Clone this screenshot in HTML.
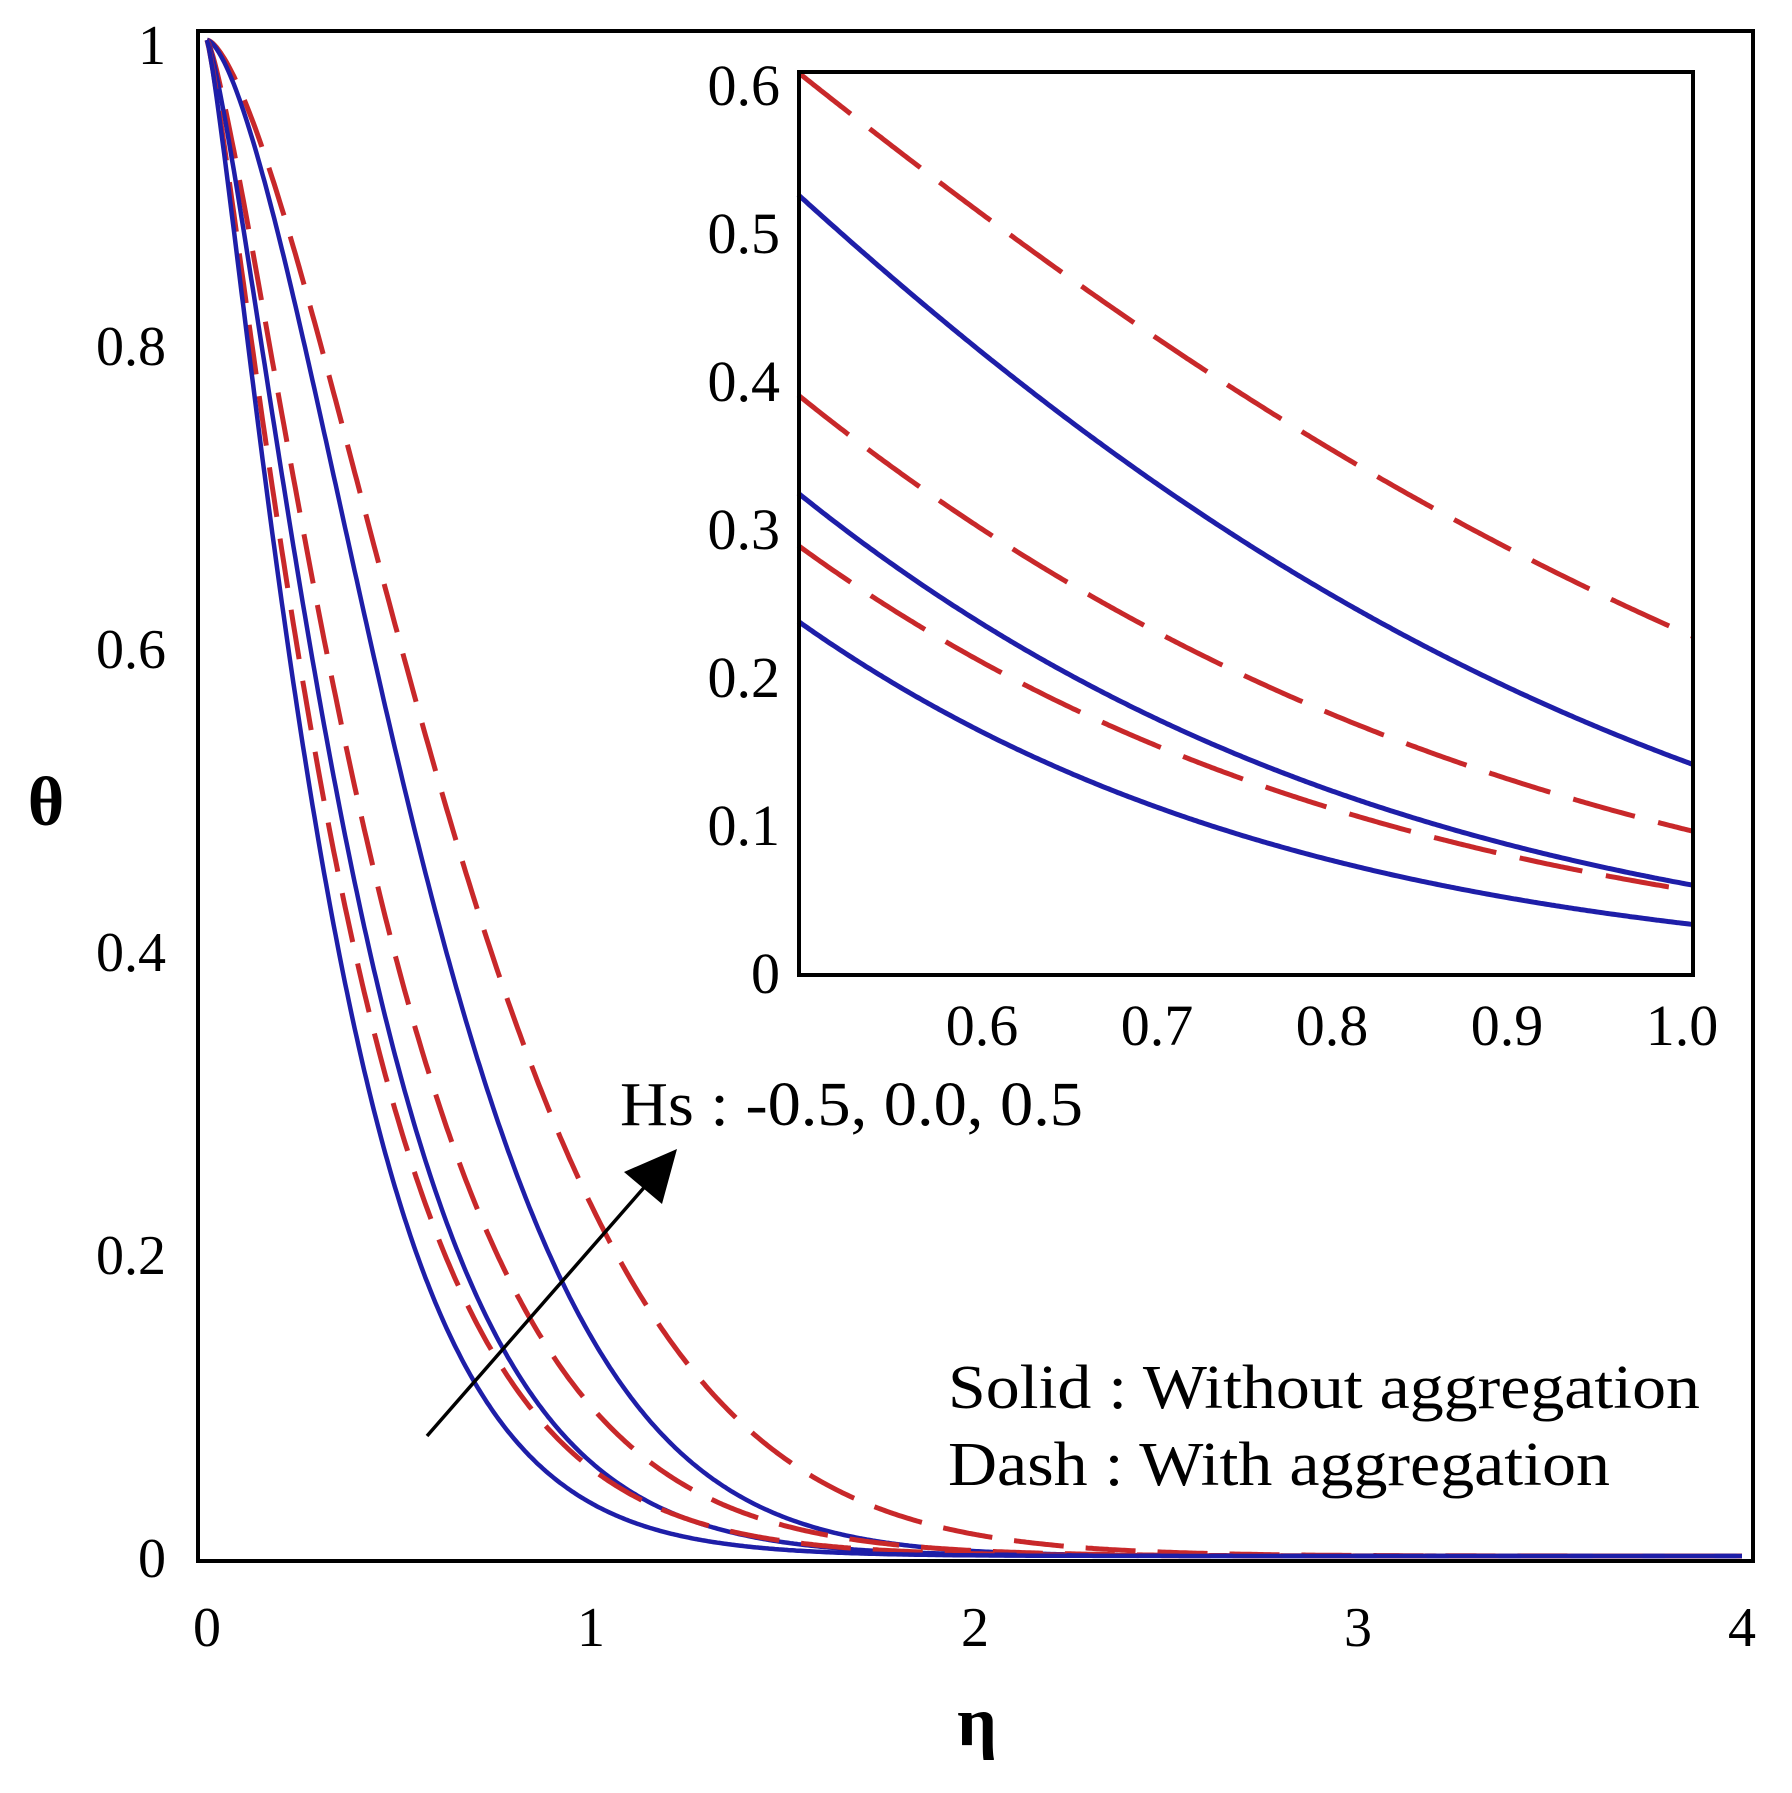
<!DOCTYPE html>
<html><head><meta charset="utf-8"><style>
html,body{margin:0;padding:0;background:#fff;}
svg{display:block;}
text{font-family:"Liberation Serif",serif;fill:#000;}
</style></head><body>
<svg id="s" width="1792" height="1793" viewBox="0 0 1792 1793" xmlns="http://www.w3.org/2000/svg">
<rect width="1792" height="1793" fill="#fff"/>
<g id="main"></g>
<rect x="198" y="31" width="1555" height="1530" fill="none" stroke="#000" stroke-width="4"/>
<g font-size="56" text-anchor="end">
<text x="166" y="64">1</text>
<text x="166" y="365">0.8</text>
<text x="166" y="668">0.6</text>
<text x="166" y="971">0.4</text>
<text x="166" y="1274">0.2</text>
<text x="166" y="1577">0</text>
</g>
<g font-size="56" text-anchor="middle">
<text x="207" y="1646">0</text>
<text x="591" y="1646">1</text>
<text x="975" y="1646">2</text>
<text x="1358" y="1646">3</text>
<text x="1742" y="1646">4</text>
</g>
<text x="46" y="825" font-size="70" font-weight="bold" text-anchor="middle">θ</text>
<text x="977" y="1745" font-size="70" font-weight="bold" text-anchor="middle">η</text>
<rect x="799" y="72" width="894" height="903" fill="#fff"/>
<g id="inset"></g>
<rect x="799" y="72" width="894" height="903" fill="none" stroke="#000" stroke-width="4"/>
<g font-size="58" text-anchor="end">
<text x="780" y="105">0.6</text>
<text x="780" y="253">0.5</text>
<text x="780" y="401">0.4</text>
<text x="780" y="549">0.3</text>
<text x="780" y="697">0.2</text>
<text x="780" y="845">0.1</text>
<text x="780" y="993">0</text>
</g>
<g font-size="58" text-anchor="middle">
<text x="982" y="1045">0.6</text>
<text x="1157" y="1045">0.7</text>
<text x="1332" y="1045">0.8</text>
<text x="1507" y="1045">0.9</text>
<text x="1682" y="1045">1.0</text>
</g>
<line x1="427" y1="1436" x2="655" y2="1175" stroke="#000" stroke-width="3.5"/>
<polygon points="677,1149 624,1172 662,1204" fill="#000"/>
<text x="620" y="1125" font-size="62" textLength="463" lengthAdjust="spacingAndGlyphs">Hs : -0.5, 0.0, 0.5</text>
<text x="948" y="1408" font-size="62" textLength="752" lengthAdjust="spacingAndGlyphs">Solid : Without aggregation</text>
<text x="948" y="1485" font-size="62" textLength="662" lengthAdjust="spacingAndGlyphs">Dash : With aggregation</text>
</svg>
<script>
var curves=[
 {c:1.461,p:1.54,col:"#c8282a",d:1},
 {c:1.931,p:1.57,col:"#1e1ea8",d:0},
 {c:2.313,p:1.285,col:"#c8282a",d:1},
 {c:2.78,p:1.29,col:"#1e1ea8",d:0},
 {c:2.847,p:1.185,col:"#c8282a",d:1},
 {c:3.352,p:1.21,col:"#1e1ea8",d:0}
];
function th(cv,e){return Math.exp(-cv.c*Math.pow(e,cv.p));}
var NS="http://www.w3.org/2000/svg";
function add(g,d,cv,w,dash){var p=document.createElementNS(NS,"path");p.setAttribute("d",d);p.setAttribute("fill","none");p.setAttribute("stroke",cv.col);p.setAttribute("stroke-width",w);if(cv.d)p.setAttribute("stroke-dasharray",dash);g.appendChild(p);}
var gm=document.getElementById("main"),gi=document.getElementById("inset");
curves.forEach(function(cv){
 var d="";for(var i=0;i<=800;i++){var e=4*i/800;var x=207+e*383.75,y=1556-1516*th(cv,e);d+=(i?"L":"M")+x.toFixed(1)+","+y.toFixed(1);}
 add(gm,d,cv,cv.d?5:4.5,"50 22");
 d="";var first=true;for(var i=0;i<=400;i++){var e=0.495+0.511*i/400;var x=1682+(e-1)*1750,y=975-1480*th(cv,e);if(y<73)continue;d+=(first?"M":"L")+x.toFixed(1)+","+y.toFixed(1);first=false;}
 add(gi,d,cv,5,"64 24");
});
</script>
</body></html>
